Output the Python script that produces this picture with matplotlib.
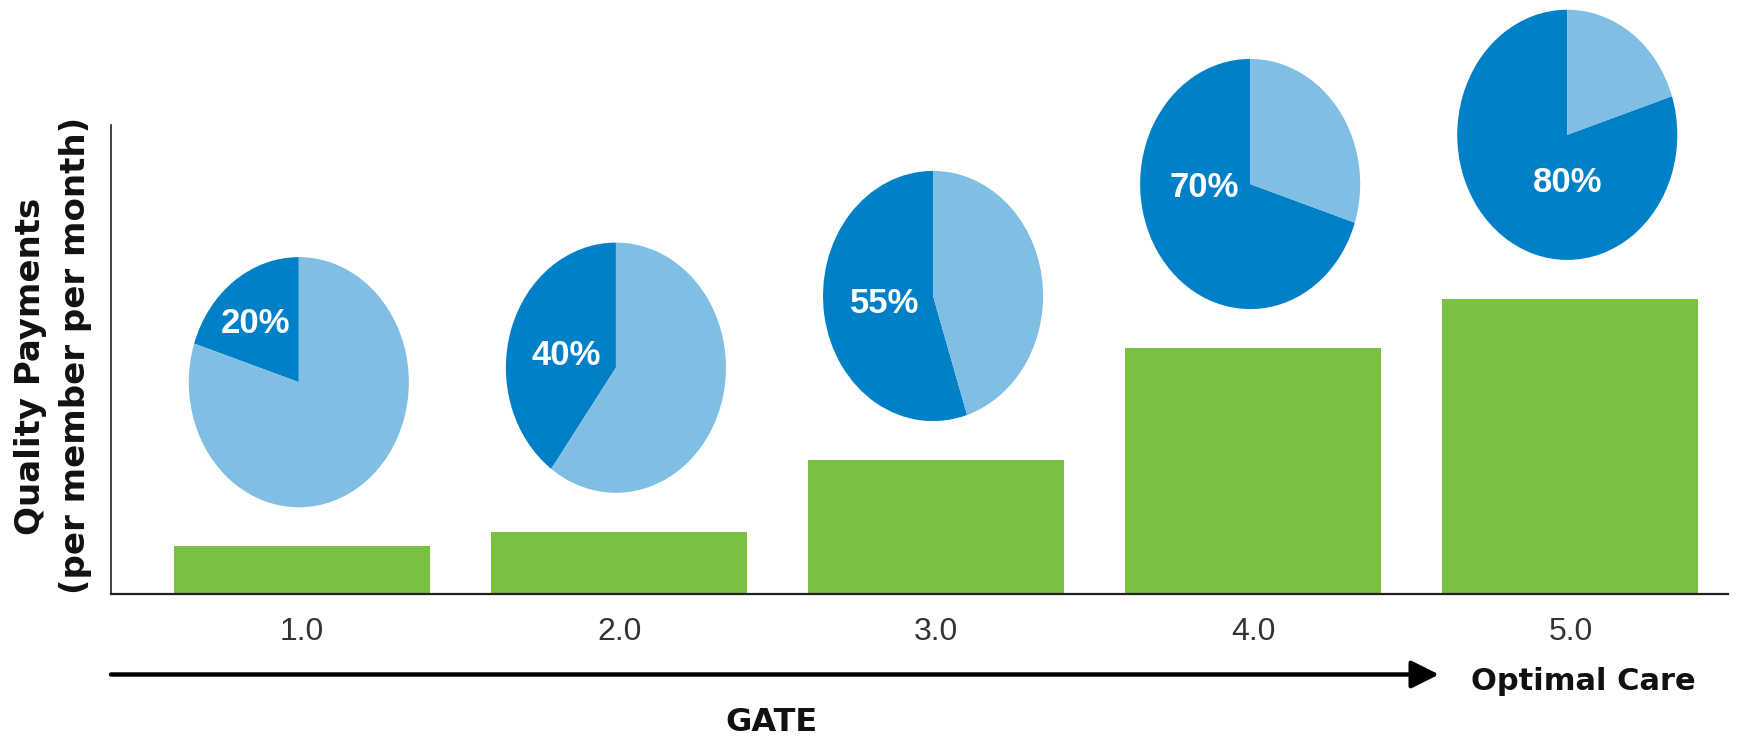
import matplotlib
matplotlib.use('Agg')
import matplotlib.pyplot as plt
from matplotlib import font_manager

# data
gates = [1, 2, 3, 4, 5]
gate_labels = ['1.0', '2.0', '3.0', '4.0', '5.0']
payments = [10.1, 13.2, 28.5, 52.4, 62.9]   # bar height, % of y axis
quality_share = [20, 40, 55, 70, 80]         # dark slice of each pie

GREEN = '#7AC143'
DARK = '#0080C6'
LIGHT = '#80BFE3'

# where each % label sits inside its pie (pie radius units)
label_pos = [(-0.39, 0.47), (-0.45, 0.10), (-0.44, -0.06), (-0.42, -0.03), (0.0, -0.38)]

names = {f.name for f in font_manager.fontManager.ttflist}
tick_font = 'Liberation Sans Narrow' if 'Liberation Sans Narrow' in names else 'Liberation Sans'
tick_size = 26 if tick_font == 'Liberation Sans Narrow' else 23

fig = plt.figure(figsize=(17.63, 7.37), dpi=100)
ax = fig.add_axes([0.0630, 0.1947, 0.9170, 0.6357])

ax.bar(gates, payments, width=0.807, color=GREEN, zorder=2)
ax.set_xlim(0.398, 5.496)
ax.set_ylim(0, 100)

for s in ['top', 'right']:
    ax.spines[s].set_visible(False)
ax.spines['left'].set_linewidth(1.2)
ax.spines['bottom'].set_linewidth(1.6)
for s in ['left', 'bottom']:
    ax.spines[s].set_color('#222222')
ax.set_yticks([])
ax.set_xticks(gates)
ax.set_xticklabels(gate_labels, fontfamily=tick_font, fontsize=tick_size, color='#333333')
ax.tick_params(axis='x', length=0, pad=17)

# pies above bars (elliptical, like the original)
pie_w = 0.694
pie_h = 53.4
for g, h, share, (lx, ly) in zip(gates, payments, quality_share, label_pos):
    cx = g - 0.010
    cy = h + 35
    pax = ax.inset_axes([cx - pie_w / 2, cy - pie_h / 2, pie_w, pie_h], transform=ax.transData)
    pax.pie([share, 100 - share], colors=[DARK, LIGHT], startangle=90, counterclock=True,
            radius=1, wedgeprops=dict(linewidth=0))
    pax.set_aspect('auto')
    pax.set_xlim(-1, 1)
    pax.set_ylim(-1, 1)
    pax.axis('off')
    pax.text(lx, ly, '{}%'.format(share), ha='center', va='center', color='white',
             fontfamily='Liberation Sans', fontweight='bold', fontsize=25)

# y label (two lines)
fig.text(31 / 1763, 1 - 366 / 737, 'Quality Payments', rotation=90, ha='center', va='center',
         fontfamily='DejaVu Sans', fontweight='bold', fontsize=24.5, color='#111111')
fig.text(76 / 1763, 1 - 355 / 737, '(per member per month)', rotation=90, ha='center', va='center',
         fontfamily='DejaVu Sans', fontweight='bold', fontsize=24.5, color='#111111')

# arrow + captions
ax.annotate('', xy=(1439, 737 - 674.5), xytext=(111, 737 - 674.5),
            xycoords='figure pixels', textcoords='figure pixels',
            arrowprops=dict(arrowstyle='-|>,head_length=0.4,head_width=0.2', lw=3.2,
                            color='black', mutation_scale=42, shrinkA=0, shrinkB=0))
fig.text(1583 / 1763, (737 - 690) / 737, 'Optimal Care', ha='center', va='baseline',
         fontfamily='DejaVu Sans', fontweight='bold', fontsize=22, color='#111111')
fig.text(771.5 / 1763, (737 - 731) / 737, 'GATE', ha='center', va='baseline',
         fontfamily='DejaVu Sans', fontweight='bold', fontsize=23, color='#111111')

plt.savefig('out.png', dpi=100)
plt.close()
